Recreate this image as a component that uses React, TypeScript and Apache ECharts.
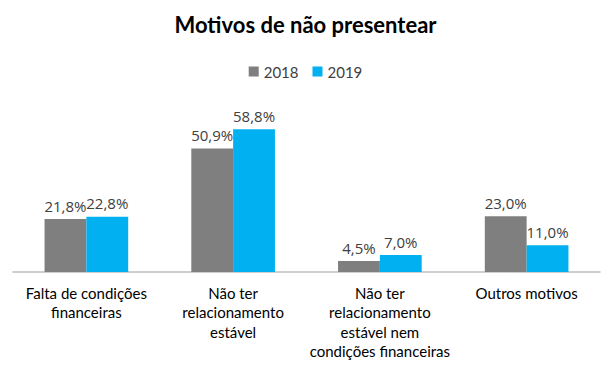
import React, { useEffect, useRef } from "react";
import * as echarts from "echarts";

const categories = [
  "Falta de condições\nfinanceiras",
  "Não ter\nrelacionamento\nestável",
  "Não ter\nrelacionamento\nestável nem\ncondições financeiras",
  "Outros motivos",
];
const seriesNames = ["2018", "2019"];
const values2018 = [21.8, 50.9, 4.5, 23.0];
const values2019 = [22.8, 58.8, 7.0, 11.0];
const colors = ["#7f7f7f", "#00b0f0"];

const fmt = (v: number) => v.toFixed(1).replace(".", ",") + "%";

export default function App() {
  const ref = useRef<HTMLDivElement>(null);
  useEffect(() => {
    const chart = echarts.init(ref.current!, null, { renderer: "svg" });
    const font = "Lato, 'Open Sans', sans-serif";
    const label = {
      show: true,
      position: "top",
      formatter: (p: any) => fmt(p.value),
      fontSize: 15,
      color: "#404040",
      distance: 6,
      fontFamily: "'Open Sans', sans-serif",
    };
    chart.setOption({
      animation: false,
      textStyle: { fontFamily: font },
      title: {
        text: "Motivos de não presentear",
        left: "center",
        top: 0,
        textStyle: { fontSize: 22, fontWeight: "bold", color: "#000", fontFamily: font },
      },
      legend: {
        data: seriesNames,
        top: 51,
        left: "center",
        icon: "rect",
        itemWidth: 10,
        itemHeight: 10,
        itemGap: 14,
        textStyle: { fontSize: 15, color: "#404040", fontFamily: font },
      },
      grid: { left: 5, right: 3, top: 94, bottom: 94, containLabel: false },
      xAxis: {
        type: "category",
        data: categories,
        axisLine: { lineStyle: { color: "#bfbfbf", width: 1.5 } },
        axisTick: { show: false },
        axisLabel: {
          interval: 0,
          fontSize: 15,
          color: "#000",
          lineHeight: 19.5,
          margin: 11,
          fontFamily: font,
        },
      },
      yAxis: {
        type: "value",
        min: 0,
        max: 70,
        show: false,
        splitLine: { show: false },
      },
      series: [
        {
          name: seriesNames[0],
          type: "bar",
          data: values2018,
          itemStyle: { color: colors[0] },
          barCategoryGap: "43%",
          barGap: "0%",
          label,
        },
        {
          name: seriesNames[1],
          type: "bar",
          data: values2019,
          itemStyle: { color: colors[1] },
          barCategoryGap: "43%",
          barGap: "0%",
          label,
        },
      ],
    });
    return () => chart.dispose();
  }, []);
  return <div ref={ref} style={{ width: 595, height: 358 }} />;
}
